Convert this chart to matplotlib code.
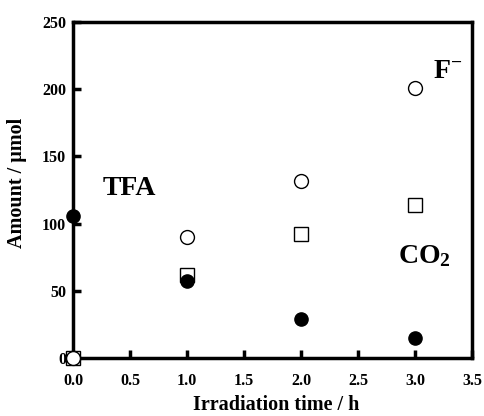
import matplotlib
matplotlib.use("Agg")
import matplotlib.pyplot as plt

plt.rcParams['font.family'] = ['Liberation Serif', 'DejaVu Serif']
plt.rcParams['font.weight'] = 'bold'
plt.rcParams['mathtext.fontset'] = 'custom'
plt.rcParams['mathtext.rm'] = 'Liberation Serif:bold'
plt.rcParams['mathtext.bf'] = 'Liberation Serif:bold'
plt.rcParams['mathtext.it'] = 'Liberation Serif:bold'
plt.rcParams['mathtext.default'] = 'bf'

time_h = [0.0, 1.0, 2.0, 3.0]
tfa = [106, 57, 29, 15]
fluoride = [0, 90, 132, 201]
co2 = [0, 62, 92, 114]
x_ticks = [0.0, 0.5, 1.0, 1.5, 2.0, 2.5, 3.0, 3.5]
y_ticks = [0, 50, 100, 150, 200, 250]

fig = plt.figure(figsize=(4.85, 4.16), dpi=100)
ax = fig.add_axes([73/485, 1-358/416, (472-73)/485, (358-22)/416])

ax.plot(time_h, co2, 's', mfc='white', mec='black', mew=1.0, ms=10, clip_on=False, zorder=3)
ax.plot(time_h, fluoride, 'o', mfc='white', mec='black', mew=1.0, ms=10, clip_on=False, zorder=4)
ax.plot(time_h, tfa, 'o', mfc='black', mec='black', ms=9.5, clip_on=False, zorder=5)

ax.set_xlim(0, 3.5)
ax.set_ylim(0, 250)
ax.set_xticks(x_ticks)
ax.set_xticklabels([f"{v:.1f}" for v in x_ticks])
ax.set_yticks(y_ticks)
ax.set_yticklabels([str(v) for v in y_ticks])

for s in ax.spines.values():
    s.set_linewidth(2.5)
ax.tick_params(direction='in', length=6, width=2.5, labelsize=11.5)
ax.tick_params(axis='y', pad=5)
ax.tick_params(axis='x', pad=11)
for lab in ax.get_xticklabels() + ax.get_yticklabels():
    lab.set_fontweight('bold')

ax.set_xlabel('Irradiation time / h', fontsize=14.5, fontweight='bold')
ax.set_ylabel('Amount / μmol', fontsize=14.5, fontweight='bold')
ax.xaxis.set_label_coords(0.51, -0.11)
ax.yaxis.set_label_coords(-0.115, 0.52)

ax.text(0.26, 126, 'TFA', fontsize=20, fontweight='bold', va='center', ha='left')
ax.text(3.16, 213, r'F$^{-}$', fontsize=20, fontweight='bold', va='center', ha='left')
ax.text(2.85, 76, r'CO$_{2}$', fontsize=20, fontweight='bold', va='center', ha='left')

fig.savefig('out.png', dpi=100)
